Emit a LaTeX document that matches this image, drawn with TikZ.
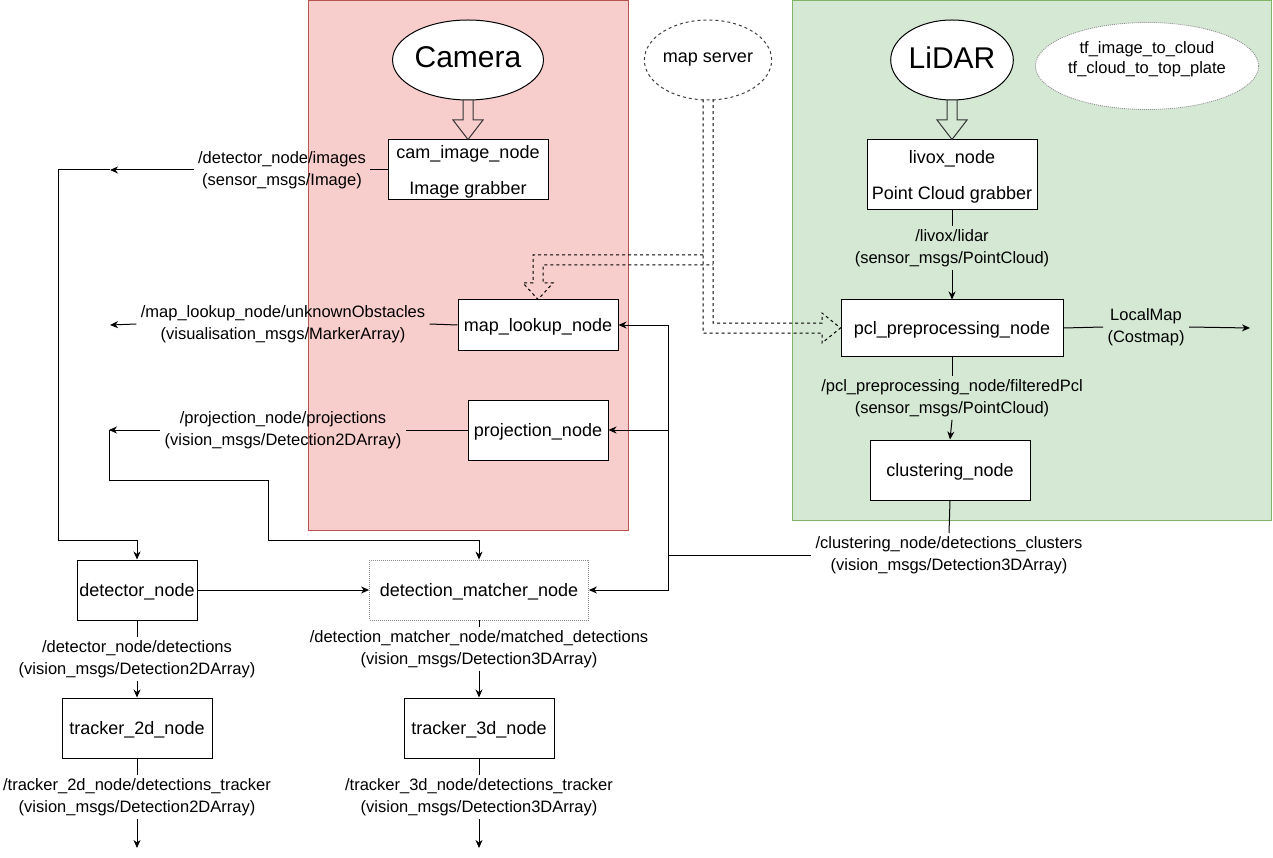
\documentclass[tikz,border=0pt]{standalone}
\usepackage{fontspec}
\setmainfont{Liberation Sans}
\usetikzlibrary{arrows.meta,shapes.geometric,calc}
\definecolor{camfill}{HTML}{F8CECC}
\definecolor{camdraw}{HTML}{B85450}
\definecolor{lidfill}{HTML}{D5E8D4}
\definecolor{liddraw}{HTML}{82B366}
\newcommand\mynodefont{\fontsize{18}{36}\selectfont}
\newcommand\mylabelfont{\fontsize{16.5}{21.5}\selectfont}
\newcommand\mybigfont{\fontsize{30}{36}\selectfont}
\begin{document}
\begin{tikzpicture}[x=1pt,y=-1pt,
  line width=1pt,
  box/.style={draw, fill=white, inner sep=0pt, align=center, font=\mynodefont, text depth=0pt},
  oval/.style={ellipse, draw, fill=white, inner sep=0pt, align=center},
  lbl/.style={inner xsep=4pt, inner ysep=3pt, align=center, font=\mylabelfont},
  arr/.style={-{Stealth[length=8pt,width=7pt,inset=2.5pt]}},
  dashline/.style={dash pattern=on 3pt off 3pt, line width=1pt},
  dotline/.style={draw=black!45, dash pattern=on 1pt off 1pt, line width=0.8pt}
]
\useasboundingbox (0,0) rectangle (1273,858);
% regions
\draw[fill=camfill, draw=camdraw] (308,0.5) rectangle (628,530);
\draw[fill=lidfill, draw=liddraw] (792,0.5) rectangle (1271,520);

% source ellipses
\node[oval, minimum width=120pt, minimum height=80pt, font=\mybigfont, text depth=5pt] (cam) at (468,60) {Camera};
\node[oval, minimum width=120pt, minimum height=80pt, font=\mybigfont, text depth=5pt] (lidar) at (952,60) {LiDAR};
\node[oval, draw=black!75, dash pattern=on 3pt off 3pt, minimum width=120pt, minimum height=80pt, font=\mynodefont] (mapsrv) at (708,60) {map server};
\node[oval, dotline, minimum width=188pt, minimum height=87pt, font=\fontsize{16.5}{20}\selectfont, text depth=17pt] (tf) at (1147,66) {tf\_image\_to\_cloud\\tf\_cloud\_to\_top\_plate};

% boxes
\node[box, minimum width=160pt, minimum height=60pt] (camimg) at (468,170) {cam\_image\_node\\Image grabber};
\node[box, minimum width=170pt, minimum height=70pt] (livox) at (952,175) {livox\_node\\Point Cloud grabber};
\node[box, minimum width=160pt, minimum height=50pt] (maplk) at (538,325) {map\_lookup\_node};
\node[box, minimum width=140pt, minimum height=60pt] (proj) at (538,430) {projection\_node};
\node[box, minimum width=222pt, minimum height=56pt] (pcl) at (952,328) {pcl\_preprocessing\_node};
\node[box, minimum width=160pt, minimum height=60pt] (clust) at (950,470) {clustering\_node};
\node[box, minimum width=120pt, minimum height=60pt] (det) at (137,590) {detector\_node};
\node[box, dotline, minimum width=219pt, minimum height=60pt] (match) at (479,590) {detection\_matcher\_node};
\node[box, minimum width=150pt, minimum height=60pt] (trk2) at (137,728) {tracker\_2d\_node};
\node[box, minimum width=150pt, minimum height=60pt] (trk3) at (479,728) {tracker\_3d\_node};

% block arrows from sensors
\draw[draw=black!80] (463,100) -- (463,120) -- (453,120) -- (camimg.north) -- (483,120) -- (473,120) -- (473,100);
\draw[draw=black!80] (947,100) -- (947,120) -- (937,120) -- (livox.north) -- (967,120) -- (957,120) -- (957,100);

% dashed flex arrows from map server
\coordinate (ms1) at (703,99.5);
\coordinate (ms2) at (713,99.5);
\draw[dashline] (ms1) -- (703,333) -- (822,333) -- (822,343) -- (pcl.west) -- (822,313) -- (822,323) -- (713,323) -- (ms2);
\draw[dashline] (703,255) -- (533,255) -- (533,283) -- (523,283) -- (maplk.north) -- (553,283) -- (543,283) -- (543,265) -- (713,265);

% labels
\node[lbl] (limg) at (282,170) {/detector\_node/images\\(sensor\_msgs/Image)};
\node[lbl] (lmap) at (283,324) {/map\_lookup\_node/unknownObstacles\\(visualisation\_msgs/MarkerArray)};
\node[lbl] (lproj) at (283,430) {/projection\_node/projections\\(vision\_msgs/Detection2DArray)};
\node[lbl] (llivox) at (952,248) {/livox/lidar\\(sensor\_msgs/PointCloud)};
\node[lbl] (lpcl) at (952,398) {/pcl\_preprocessing\_node/filteredPcl\\(sensor\_msgs/PointCloud)};
\node[lbl] (llocal) at (1146,327) {LocalMap\\(Costmap)};
\node[lbl] (lclust) at (949,555) {/clustering\_node/detections\_clusters\\(vision\_msgs/Detection3DArray)};
\node[lbl] (ldet) at (137,659) {/detector\_node/detections\\(vision\_msgs/Detection2DArray)};
\node[lbl] (lmatch) at (479,649) {/detection\_matcher\_node/matched\_detections\\(vision\_msgs/Detection3DArray)};
\node[lbl] (ltrk2) at (137,797) {/tracker\_2d\_node/detections\_tracker\\(vision\_msgs/Detection2DArray)};
\node[lbl] (ltrk3) at (479,797) {/tracker\_3d\_node/detections\_tracker\\(vision\_msgs/Detection3DArray)};

% coordinates for free ends and bends
\coordinate (pimg) at (110,170);
\coordinate (pmap) at (110,325);
\coordinate (pproj) at (109,430);
\coordinate (b1) at (58,170);
\coordinate (b2) at (58,540);
\coordinate (b3) at (137,540);
\coordinate (c1) at (109,480);
\coordinate (c2) at (268,480);
\coordinate (c3) at (268,540);
\coordinate (c4) at (479,540);
\coordinate (jc) at (668,555);
\coordinate (jt) at (668,325);
\coordinate (jp) at (668,430);
\coordinate (jb) at (668,590);
\coordinate (endlm) at (1250,328);
\coordinate (end2) at (137,848);
\coordinate (end3) at (479,848);

% camera side connectors
\draw (camimg.west) -- (limg.east);
\draw[arr] (limg.west) -- (pimg);
\draw[arr] (pimg) -- (b1) -- (b2) -- (b3) -- (det.north);
\draw (maplk.west) -- (lmap.east);
\draw[arr] (lmap.west) -- (pmap);
\draw (proj.west) -- (lproj.east);
\draw[arr] (lproj.west) -- (pproj);
\draw[arr] (pproj) -- (c1) -- (c2) -- (c3) -- (c4) -- (match.north);

% lidar side connectors
\draw (livox.south) -- (llivox.north);
\draw[arr] (llivox.south) -- (pcl.north);
\draw (pcl.south) -- (lpcl.north);
\draw[arr] (lpcl.south) -- (clust.north);
\draw (pcl.east) -- (llocal.west);
\draw[arr] (llocal.east) -- (endlm);
\draw (clust.south) -- (lclust.north);
\draw (lclust.west) -- (jc);
\draw[arr] (jc) -- (jt) -- (maplk.east);
\draw[arr] (jp) -- (proj.east);
\draw[arr] (jc) -- (jb) -- (match.east);

% lower pipeline
\draw[arr] (det.east) -- (match.west);
\draw (det.south) -- (ldet.north);
\draw[arr] (ldet.south) -- (trk2.north);
\draw (match.south) -- (lmatch.north);
\draw[arr] (lmatch.south) -- (trk3.north);
\draw (trk2.south) -- (ltrk2.north);
\draw[arr] (ltrk2.south) -- (end2);
\draw (trk3.south) -- (ltrk3.north);
\draw[arr] (ltrk3.south) -- (end3);
\end{tikzpicture}
\end{document}
